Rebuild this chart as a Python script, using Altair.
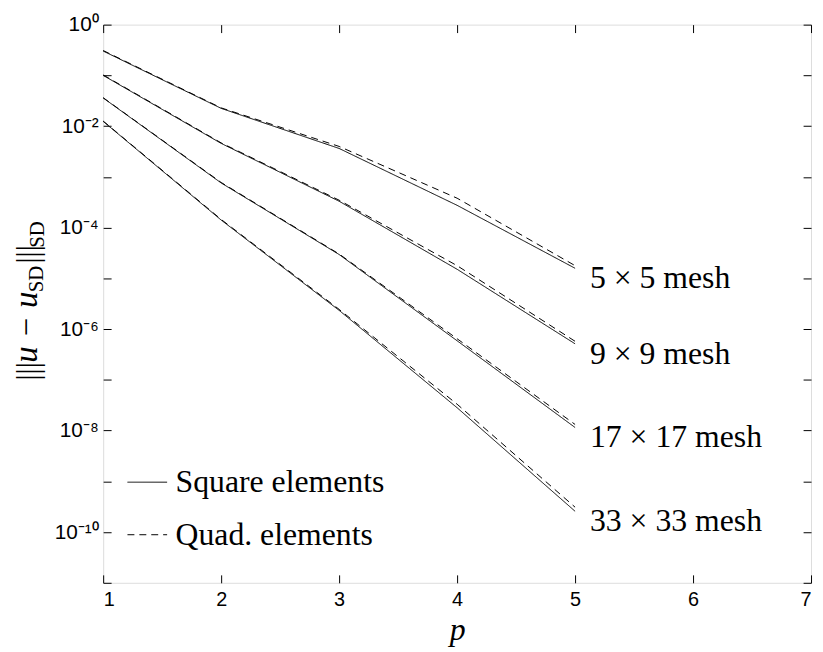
import altair as alt
import pandas as pd

# ---------------- data ----------------
p_vals = [1, 2, 3, 4, 5]
meshes = ["5 × 5 mesh", "9 × 9 mesh", "17 × 17 mesh", "33 × 33 mesh"]
elements = ["Square elements", "Quad. elements"]

square_5 = [3.02e-1, 2.24e-2, 3.63e-3, 2.75e-4, 1.58e-5]
square_9 = [1.00e-1, 4.57e-3, 3.31e-4, 1.51e-5, 5.13e-7]
square_17 = [3.59e-2, 7.59e-4, 2.95e-5, 5.89e-7, 1.15e-8]
square_33 = [1.24e-2, 1.41e-4, 2.34e-6, 2.82e-8, 2.57e-10]

quad_5 = [3.09e-1, 2.29e-2, 3.98e-3, 3.80e-4, 1.78e-5]
quad_9 = [1.02e-1, 4.68e-3, 3.47e-4, 1.78e-5, 5.75e-7]
quad_17 = [3.63e-2, 7.76e-4, 3.02e-5, 6.46e-7, 1.32e-8]
quad_33 = [1.26e-2, 1.45e-4, 2.45e-6, 3.31e-8, 3.09e-10]

x_ticks = [1, 2, 3, 4, 5, 6, 7]
y_ticks = [1e0, 1e-1, 1e-2, 1e-3, 1e-4, 1e-5, 1e-6, 1e-7, 1e-8, 1e-9, 1e-10, 1e-11]

series = {
    ("Square elements", meshes[0]): square_5,
    ("Square elements", meshes[1]): square_9,
    ("Square elements", meshes[2]): square_17,
    ("Square elements", meshes[3]): square_33,
    ("Quad. elements", meshes[0]): quad_5,
    ("Quad. elements", meshes[1]): quad_9,
    ("Quad. elements", meshes[2]): quad_17,
    ("Quad. elements", meshes[3]): quad_33,
}
rows = []
for (el, mesh), vals in series.items():
    for p, v in zip(p_vals, vals):
        rows.append({"p": p, "err": v, "mesh": mesh, "element": el})
df = pd.DataFrame(rows)
df_end = df[(df["p"] == p_vals[-1]) & (df["element"] == elements[0])]

W, H = 714, 563
SERIF = "Liberation Serif"
SANS = "Liberation Sans"

xscale = alt.Scale(domain=[1, 7], nice=False, zero=False)
yscale = alt.Scale(type="log", domain=[1e-11, 1], nice=False)

sup = ("replace(replace(replace(replace(replace(replace(replace("
       "'' + round(log(datum.value)/LN10), '-', '⁻'), '0', '⁰'), '1', '¹'), "
       "'2', '²'), '4', '⁴'), '6', '⁶'), '8', '⁸')")
ylabel_expr = f"(round(log(datum.value)/LN10) % 2 != 0) ? '' : '10' + {sup}"

# main layer: lines with labelled axes
lines = alt.Chart(df).mark_line(color="black", strokeWidth=1).encode(
    x=alt.X("p:Q", scale=xscale,
            axis=alt.Axis(values=x_ticks, format="d", tickSize=0, domain=False, grid=False,
                          labelFont=SANS, labelFontSize=20, labelPadding=7, labelColor="black",
                          title="p", titleFont=SERIF, titleFontStyle="italic",
                          titleFontWeight="normal", titleFontSize=32, titleColor="black",
                          titlePadding=5)),
    y=alt.Y("err:Q", scale=yscale,
            axis=alt.Axis(values=y_ticks, labelExpr=ylabel_expr, tickSize=0, domain=False,
                          grid=False, labelFont=SANS, labelFontSize=21, labelPadding=5,
                          labelColor="black", title=None)),
    detail="mesh:N",
    strokeDash=alt.StrokeDash(
        "element:N",
        scale=alt.Scale(domain=elements, range=[[1, 0], [7, 5]]),
        legend=alt.Legend(title=None, orient="none", legendX=24, legendY=441,
                          symbolType="stroke", symbolSize=1600, symbolStrokeWidth=1,
                          symbolStrokeColor="black", labelFont=SERIF, labelFontSize=32,
                          labelColor="black", labelOffset=8, labelLimit=0,
                          rowPadding=16, padding=0),
    ),
)

# inward ticks: axes placed on the opposite side with a negative offset
ticks_a = alt.Chart(df).mark_point(opacity=0).encode(
    x=alt.X("p:Q", scale=xscale,
            axis=alt.Axis(orient="top", offset=-H, values=x_ticks, tickSize=8, labels=False,
                          domain=False, grid=False, title=None, tickColor="black")),
    y=alt.Y("err:Q", scale=yscale,
            axis=alt.Axis(orient="right", offset=-W, values=y_ticks, tickSize=8, labels=False,
                          domain=False, grid=False, title=None, tickColor="black")),
)
ticks_b = alt.Chart(df).mark_point(opacity=0).encode(
    x=alt.X("p:Q", scale=xscale,
            axis=alt.Axis(orient="bottom", offset=-H, values=x_ticks, tickSize=8, labels=False,
                          domain=False, grid=False, title=None, tickColor="black")),
    y=alt.Y("err:Q", scale=yscale,
            axis=alt.Axis(orient="left", offset=-W, values=y_ticks, tickSize=8, labels=False,
                          domain=False, grid=False, title=None, tickColor="black")),
)

mesh_labels = alt.Chart(df_end).mark_text(
    align="left", baseline="middle", dx=15, dy=10, font=SERIF, fontSize=32, color="black"
).encode(x=alt.X("p:Q", scale=xscale, axis=None),
         y=alt.Y("err:Q", scale=yscale, axis=None), text="mesh:N")

# y-axis title |||u − u_SD|||_SD built from rotated pieces
one = pd.DataFrame({"k": [0]})
def piece(txt, xv, yv, size, style="normal"):
    return alt.Chart(one).mark_text(
        text=txt, angle=270, align="left", baseline="alphabetic", font=SERIF,
        fontSize=size, fontStyle=style, color="black"
    ).encode(x=alt.value(xv), y=alt.value(yv))

ytitle = [
    piece("|||", -66, 359, 31),
    piece("u − u", -67, 341, 33, "italic"),
    piece("SD", -61, 270, 21),
    piece("|||", -66, 241, 31),
    piece("SD", -60, 225, 21),
]

chart = alt.layer(lines, ticks_a, ticks_b, mesh_labels, *ytitle).resolve_axis(
    x="independent", y="independent"
).properties(
    width=W, height=H,
    padding={"left": 96, "top": 14, "right": 4, "bottom": 66},
    autosize=alt.AutoSizeParams(type="none"),
).configure_view(stroke="black", strokeWidth=1.2).configure(background="white")

chart.save("out.html", embed_options={"renderer": "svg", "actions": False})
